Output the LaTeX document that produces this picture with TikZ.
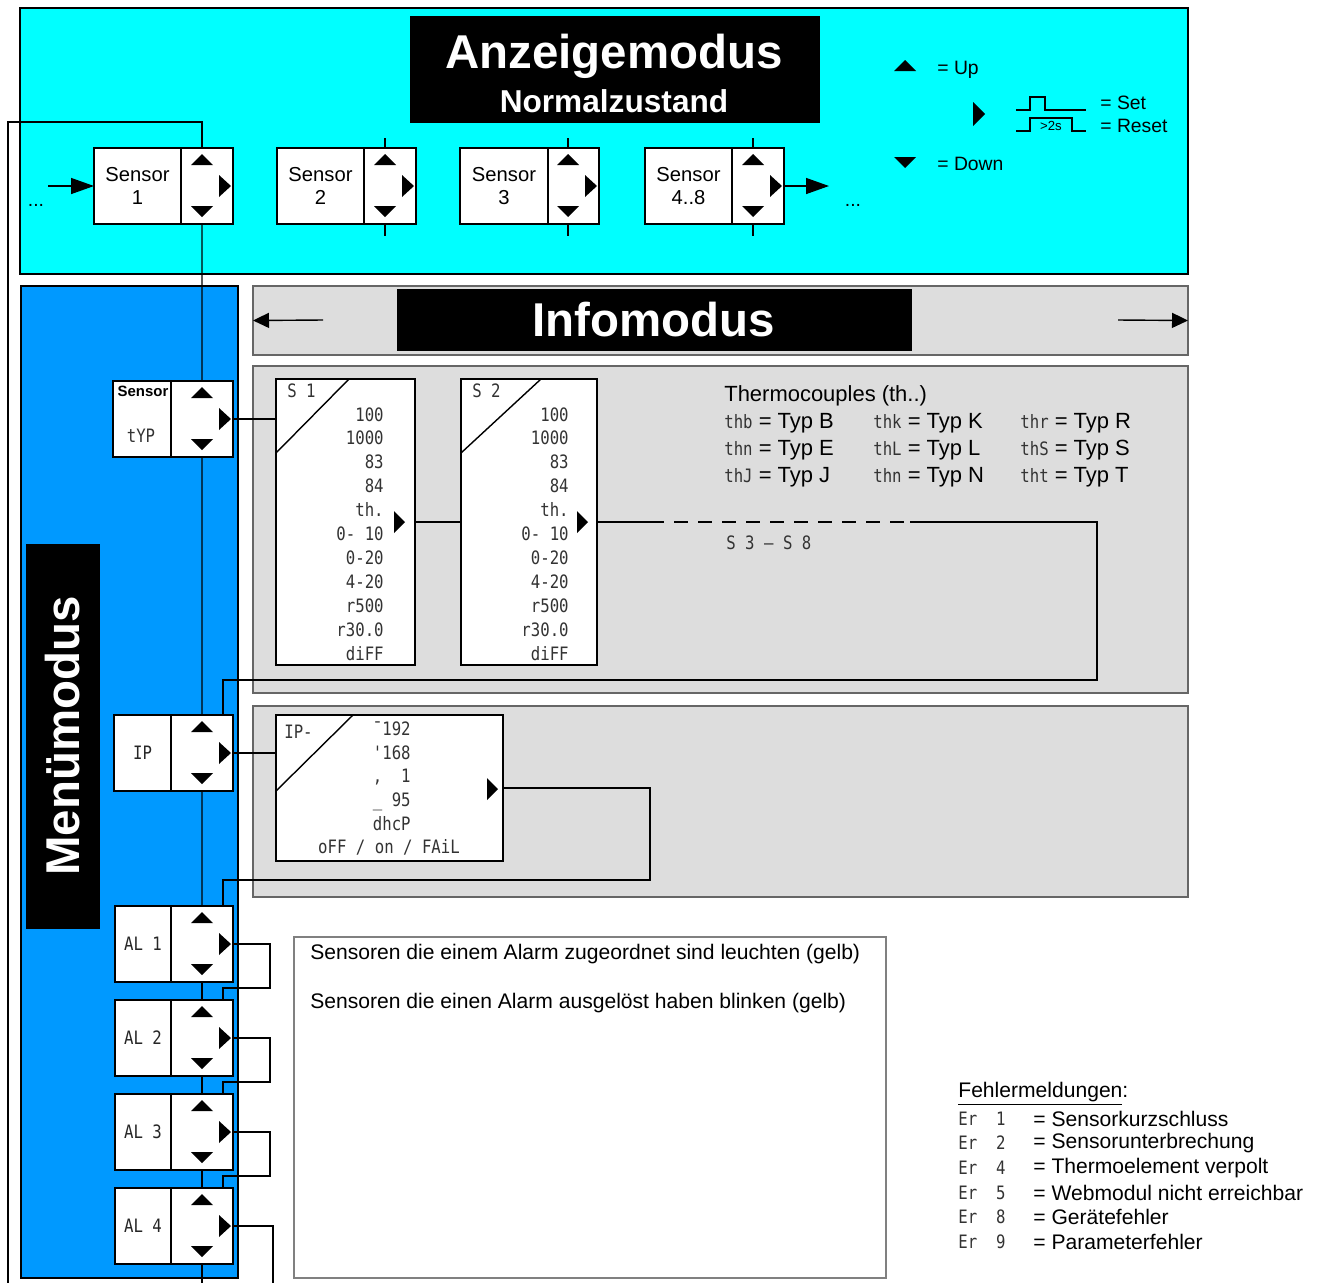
\documentclass[tikz,border=0pt]{standalone}
\usepackage{fontspec}
\setmainfont{Liberation Sans}
\newfontfamily\lcd[FakeStretch=0.85]{DejaVu Sans Mono}
\usetikzlibrary{arrows.meta,positioning,calc}
\definecolor{anzcyan}{RGB}{0,255,255}
\definecolor{menublue}{RGB}{0,153,255}
\definecolor{infogray}{RGB}{221,221,221}
\newlength\pxu
\setlength\pxu{0.2mm}
\newcommand\lcdcode[1]{{\lcd\fontsize{10.5}{13}\selectfont\textcolor{black!80}{#1}}}
\newcommand\keypad[1]{%
  \fill ($(#1.north east)+(-42,17)$) -- ++(11,-11) -- ++(11,11) -- cycle;
  \fill ($(#1.south east)+(-42,-18)$) -- ++(11,11) -- ++(11,-11) -- cycle;
  \fill ($(#1.east)+(-14,-11)$) -- ++(12,11) -- ++(-12,11) -- cycle;
  \coordinate (#1-t) at ($(#1.north east)+(-31,0)$);
  \coordinate (#1-b) at ($(#1.south east)+(-31,0)$);
  \coordinate (#1-in) at ($(#1.north east)+(-10,0)$);
}

\begin{document}
\begin{tikzpicture}[
    x=0.2mm, y=-0.2mm,
    panelbox/.style={draw=black, line width=0.8pt, anchor=north west, inner sep=0pt, outer sep=0pt},
    graybox/.style={panelbox, draw=black!60, line width=0.6pt, fill=infogray},
    titlebox/.style={fill=black, draw=black, anchor=north west, inner sep=0pt, outer sep=0pt, text=white},
    labelbox/.style={draw=black, line width=0.6pt, fill=white, anchor=north west, align=center, minimum height=76\pxu, inner sep=0pt, outer sep=0pt, font=\fontsize{11.5}{13}\selectfont},
    lcdlabel/.style={font=\lcd\fontsize{10.5}{13}\selectfont, text=black!85},
    keybox/.style={draw=black, line width=0.6pt, fill=white, minimum width=52\pxu, minimum height=76\pxu, inner sep=0pt, outer sep=0pt},
    lcdbox/.style={draw=black, line width=0.6pt, fill=white, anchor=north west, inner sep=0pt, outer sep=0pt},
    lcdtext/.style={font=\lcd\fontsize{10.5}{13.6}\selectfont, text=black!80, inner sep=0pt},
    txt/.style={font=\fontsize{12}{14}\selectfont, inner sep=0pt, anchor=west},
    legtext/.style={font=\fontsize{11}{13}\selectfont, inner sep=0pt, anchor=west},
    bigflow/.style={-{Triangle[length=4.6mm, width=3.2mm]}, line width=0.8pt},
    flow/.style={-{Triangle[length=3.2mm, width=3mm]}, line width=0.8pt},
    link/.style={line width=0.8pt}
  ]
    \useasboundingbox (0,0) rectangle (1324,1283);
    \fill[white] (0,0) rectangle (1324,1283);

    \node[panelbox, fill=anzcyan, minimum width=1168\pxu, minimum height=266\pxu] (anzeige) at (20,8) {};
    \node[titlebox, minimum width=409\pxu, minimum height=106\pxu] (anztitle) at (410,16) {};
    \node[text=white, font=\bfseries\fontsize{27}{30}\selectfont] (anzA) at (614,56) {Anzeigemodus};
    \node[text=white, font=\bfseries\fontsize{18}{20}\selectfont] (anzB) at (614,101) {Normalzustand};

    \node[panelbox, line width=0.6pt, fill=menublue, minimum width=217\pxu, minimum height=992\pxu] (menu) at (21,286) {};
    \node[titlebox, anchor=center, rotate=90, minimum width=384\pxu, minimum height=73\pxu, font=\bfseries\fontsize{27}{30}\selectfont] (menutitle) at (62.5,736) {Menümodus};

    \node[graybox, minimum width=935\pxu, minimum height=69\pxu] (infohdr) at (253,286) {};
    \node[titlebox, minimum width=514\pxu, minimum height=61\pxu, font=\bfseries\fontsize{27}{30}\selectfont] (infotitle) at (397,289) {Infomodus};
    \node[graybox, minimum width=935\pxu, minimum height=327\pxu] (infosens) at (253,366) {};
    \node[graybox, minimum width=935\pxu, minimum height=191\pxu] (infoip) at (253,706) {};
    \node[panelbox, draw=black!50, line width=0.6pt, fill=white, minimum width=592\pxu, minimum height=341\pxu] (notes) at (294,937) {};

    \node[labelbox, minimum width=87\pxu] (sensA) at (94,148) {Sensor\\1};
    \node[keybox, right=0pt of sensA] (sensAk) {};
    \node[labelbox, minimum width=87\pxu] (sensB) at (277,148) {Sensor\\2};
    \node[keybox, right=0pt of sensB] (sensBk) {};
    \node[labelbox, minimum width=88\pxu] (sensC) at (460,148) {Sensor\\3};
    \node[keybox, minimum width=51\pxu, right=0pt of sensC] (sensCk) {};
    \node[labelbox, minimum width=87\pxu] (sensD) at (645,148) {Sensor\\4..8};
    \node[keybox, right=0pt of sensD] (sensDk) {};
    \keypad{sensAk}
    \keypad{sensBk}
    \keypad{sensCk}
    \keypad{sensDk}

    \node[labelbox, minimum width=58\pxu] (styp) at (113,381) {};
    \node[keybox, minimum width=62\pxu, right=0pt of styp] (stypk) {};
    \node[font=\bfseries\fontsize{8.5}{10}\selectfont, inner sep=0pt] (stypA) at (143,391) {Sensor};
    \node[lcdtext] (stypB) at (141,436) {tYP};
    \node[labelbox, lcdlabel, minimum width=57\pxu] (ipm) at (114,715) {IP};
    \node[keybox, minimum width=62\pxu, right=0pt of ipm] (ipmk) {};
    \node[labelbox, lcdlabel, minimum width=56\pxu] (alA) at (115,906) {AL~1};
    \node[keybox, minimum width=62\pxu, right=0pt of alA] (alAk) {};
    \node[labelbox, lcdlabel, minimum width=56\pxu] (alB) at (115,1000) {AL~2};
    \node[keybox, minimum width=62\pxu, right=0pt of alB] (alBk) {};
    \node[labelbox, lcdlabel, minimum width=56\pxu] (alC) at (115,1094) {AL~3};
    \node[keybox, minimum width=62\pxu, right=0pt of alC] (alCk) {};
    \node[labelbox, lcdlabel, minimum width=56\pxu] (alD) at (115,1188) {AL~4};
    \node[keybox, minimum width=62\pxu, right=0pt of alD] (alDk) {};
    \keypad{stypk}
    \keypad{ipmk}
    \keypad{alAk}
    \keypad{alBk}
    \keypad{alCk}
    \keypad{alDk}

    \node[lcdbox, minimum width=139\pxu, minimum height=286\pxu] (sA) at (276,379) {};
    \draw[link] ($(sA.north west)+(0,74)$) -- ($(sA.north west)+(73,0)$);
    \node[lcdtext, anchor=west] (sAname) at (287,391) {S~1};
    \node[lcdtext, anchor=north east, align=right] (sAlist) at (384,407) {100\\1000\\83\\84\\th.\\0- 10\\0-20\\4-20\\r500\\r30.0\\diFF};
    \fill ($(sA.east)+(-21,-11)$) -- ++(11,11) -- ++(-11,11) -- cycle;
    \node[lcdbox, minimum width=136\pxu, minimum height=286\pxu] (sB) at (461,379) {};
    \draw[link] ($(sB.north west)+(0,74)$) -- ($(sB.north west)+(80,0)$);
    \node[lcdtext, anchor=west] (sBname) at (472,391) {S~2};
    \node[lcdtext, anchor=north east, align=right] (sBlist) at (569,407) {100\\1000\\83\\84\\th.\\0- 10\\0-20\\4-20\\r500\\r30.0\\diFF};
    \fill ($(sB.east)+(-20,-11)$) -- ++(11,11) -- ++(-11,11) -- cycle;
    \node[lcdtext, anchor=west] (srest) at (726,543) {S~3~–~S~8};

    \node[lcdbox, minimum width=227\pxu, minimum height=146\pxu] (ipd) at (276,715) {};
    \draw[link] ($(ipd.north west)+(0,76)$) -- ($(ipd.north west)+(77,0)$);
    \node[lcdtext, anchor=west] (ipdname) at (284,732) {IP-};
    \node[lcdtext, anchor=north east, align=right] (ipdlist) at (411,721) {¯192\\'168\\,~~1\\\_~95\\dhcP};
    \node[lcdtext] (ipdstate) at (389,847) {oFF / on / FAiL};
    \fill ($(ipd.east)+(-16,-10)$) -- ++(11,11) -- ++(-11,11) -- cycle;

    \node[txt, font=\fontsize{12.5}{14}\selectfont] (tcTitle) at (724,396) {Thermocouples (th..)};
    \node[txt, font=\fontsize{12.5}{14}\selectfont] (tcB) at (724,423) {\lcdcode{thb} = Typ B};
    \node[txt, font=\fontsize{12.5}{14}\selectfont] (tcE) at (724,450) {\lcdcode{thn} = Typ E};
    \node[txt, font=\fontsize{12.5}{14}\selectfont] (tcJ) at (724,477) {\lcdcode{thJ} = Typ J};
    \node[txt, font=\fontsize{12.5}{14}\selectfont] (tcK) at (873,423) {\lcdcode{thk} = Typ K};
    \node[txt, font=\fontsize{12.5}{14}\selectfont] (tcL) at (873,450) {\lcdcode{thL} = Typ L};
    \node[txt, font=\fontsize{12.5}{14}\selectfont] (tcN) at (873,477) {\lcdcode{thn} = Typ N};
    \node[txt, font=\fontsize{12.5}{14}\selectfont] (tcR) at (1020,423) {\lcdcode{thr} = Typ R};
    \node[txt, font=\fontsize{12.5}{14}\selectfont] (tcS) at (1020,450) {\lcdcode{thS} = Typ S};
    \node[txt, font=\fontsize{12.5}{14}\selectfont] (tcT) at (1020,477) {\lcdcode{tht} = Typ T};

    \node[txt] (noteA) at (310,954) {Sensoren die einem Alarm zugeordnet sind leuchten (gelb)};
    \node[txt] (noteB) at (310,1003) {Sensoren die einen Alarm ausgelöst haben blinken (gelb)};

    \node[txt] (errTitle) at (958,1094) {\underline{Fehlermeldungen}:};
    \node[lcdtext, anchor=west] (erA) at (958,1119) {Er~~1};
    \node[lcdtext, anchor=west] (erB) at (958,1143) {Er~~2};
    \node[lcdtext, anchor=west] (erC) at (958,1168) {Er~~4};
    \node[lcdtext, anchor=west] (erD) at (958,1193) {Er~~5};
    \node[lcdtext, anchor=west] (erE) at (958,1217) {Er~~8};
    \node[lcdtext, anchor=west] (erF) at (958,1242) {Er~~9};
    \node[txt] (erAt) at (1033,1119) {= Sensorkurzschluss};
    \node[txt] (erBt) at (1033,1143) {= Sensorunterbrechung};
    \node[txt] (erCt) at (1033,1168) {= Thermoelement verpolt};
    \node[txt] (erDt) at (1033,1193) {= Webmodul nicht erreichbar};
    \node[txt] (erEt) at (1033,1217) {= Gerätefehler};
    \node[txt] (erFt) at (1033,1242) {= Parameterfehler};

    \fill (894,71) -- (905,60) -- (916,71) -- cycle;
    \fill (894,157) -- (905,168) -- (916,157) -- cycle;
    \fill (973,102) -- (985,114) -- (973,126) -- cycle;
    \draw[line width=0.6pt] (1016,110) -- (1030,110) -- (1030,97) -- (1045,97) -- (1045,110) -- (1086,110);
    \draw[line width=0.6pt] (1016,131) -- (1030,131) -- (1030,118) -- (1072,118) -- (1072,131) -- (1086,131);
    \node[font=\fontsize{7.5}{9}\selectfont, inner sep=0pt] (legTime) at (1051,126) {>2s};
    \node[legtext] (legUp) at (937,70) {= Up};
    \node[legtext] (legSet) at (1100,103) {= Set};
    \node[legtext] (legReset) at (1100,126) {= Reset};
    \node[legtext] (legDown) at (937,164) {= Down};

    \node[font=\fontsize{11}{13}\selectfont, inner sep=0pt] (dotsL) at (36,205) {...};
    \node[font=\fontsize{11}{13}\selectfont, inner sep=0pt] (dotsR) at (853,205) {...};
    \coordinate (inlet) at (48,186);
    \coordinate (outlet) at (829,186);
    \draw[bigflow] (inlet) -- (sensA);
    \draw[bigflow] (sensDk.east) -- (outlet);
    \coordinate (infoL) at (323,320);
    \coordinate (infoR) at (1118,320);
    \draw[flow] (infoL) -- (infohdr.west);
    \draw[flow] (infoR) -- (infohdr.east);

    \draw[link] (sensBk-t) -- ++(0,-10);
    \draw[link] (sensBk-b) -- ++(0,12);
    \draw[link] (sensCk-t) -- ++(0,-10);
    \draw[link] (sensCk-b) -- ++(0,12);
    \draw[link] (sensDk-t) -- ++(0,-10);
    \draw[link] (sensDk-b) -- ++(0,12);

    \coordinate (backend) at (8,1283);
    \draw[link] (sensAk-t) -- ++(0,-26) -| (backend);
    \draw[link] (sensAk-b) -- (stypk-t);
    \draw[link] (stypk-b) -- (ipmk-t);
    \draw[link] (ipmk-b) -- (alAk-t);
    \draw[link] (alAk-b) -- (alBk-t);
    \draw[link] (alBk-b) -- (alCk-t);
    \draw[link] (alCk-b) -- (alDk-t);
    \coordinate (spineend) at (202,1283);
    \draw[link] (alDk-b) -- (spineend);

    \draw[link] (stypk.east) -- (stypk.east -| sA.west);
    \draw[link] (sA.east) -- (sB.west);
    \draw[link] (sB.east) -- ++(53,0) coordinate (dashA);
    \draw[link, dash pattern=on 2.8mm off 2mm] (dashA) -- ++(260,0) coordinate (dashB);
    \coordinate (retA) at (1097,680);
    \draw[link] (dashB) -| (retA) -| (ipmk-in);
    \draw[link] (ipmk.east) -- (ipmk.east -| ipd.west);
    \coordinate (retB) at (650,880);
    \draw[link] (ipd.east) -| (retB) -| (alAk-in);
    \draw[link] (alAk.east) -- ++(37,0) |- ($(alBk-in)+(0,-12)$) -- (alBk-in);
    \draw[link] (alBk.east) -- ++(37,0) |- ($(alCk-in)+(0,-12)$) -- (alCk-in);
    \draw[link] (alCk.east) -- ++(37,0) |- ($(alDk-in)+(0,-12)$) -- (alDk-in);
    \coordinate (alend) at (273,1283);
    \draw[link] (alDk.east) -| (alend);
  \end{tikzpicture}
\end{document}
